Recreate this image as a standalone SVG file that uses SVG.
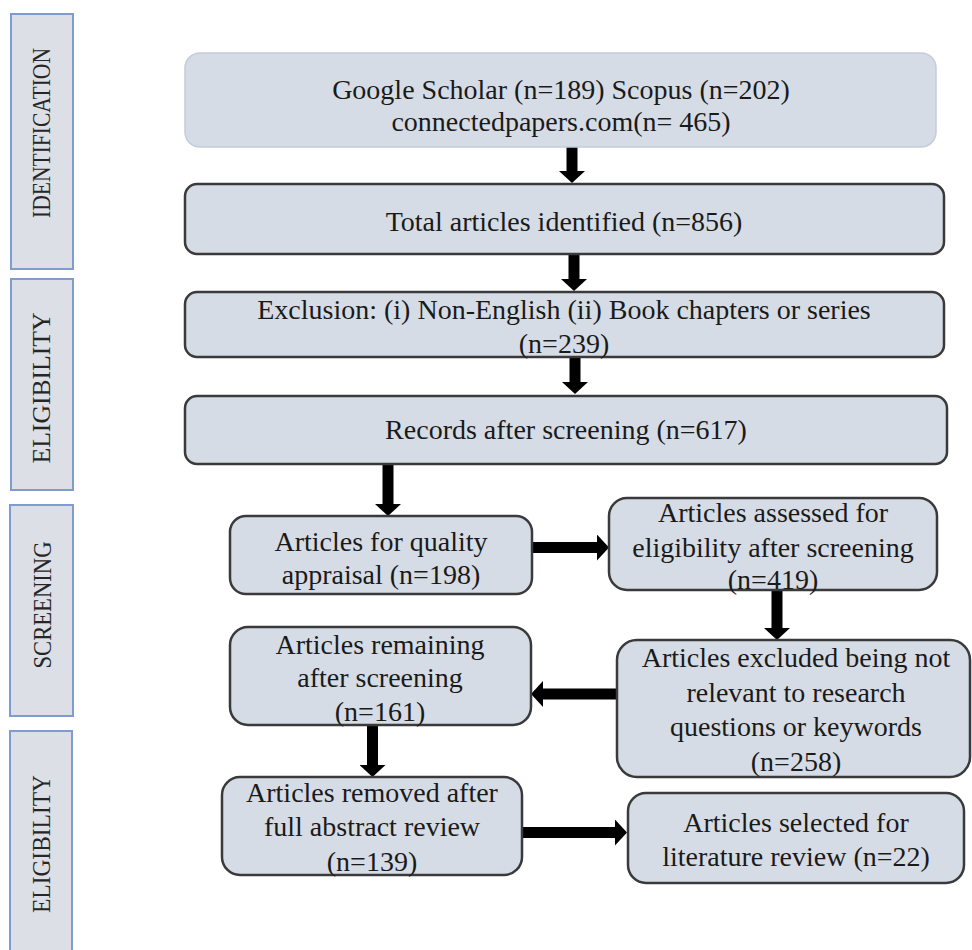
<svg xmlns="http://www.w3.org/2000/svg" width="972" height="950" viewBox="0 0 972 950">
<style>
.bg{fill:#ffffff}
.side rect{fill:#dcdfe6;stroke:#7f9bd0;stroke-width:2}
.side text{font-family:"Liberation Serif","Times New Roman",serif;font-size:25px;fill:#262626;text-anchor:middle}
.node rect{fill:#d6dce5;stroke:#3a3a3a;stroke-width:2.5}
.node.light rect{stroke:#c5ccd8;stroke-width:1.5}
.node text{font-family:"Liberation Serif","Times New Roman",serif;font-size:28px;fill:#1a1a1a;text-anchor:middle}
.conn line{stroke:#000;stroke-width:11;fill:none}
</style>
<defs>
<marker id="ah" viewBox="0 0 12 26" refX="0" refY="13" markerWidth="12" markerHeight="26" markerUnits="userSpaceOnUse" orient="auto">
<path d="M0,0 L12,13 L0,26 z" fill="#000"/>
</marker>
</defs>
<rect class="bg" x="0" y="0" width="972" height="950"/>

<g id="stage-identification" class="side">
<rect x="11" y="14" width="62" height="255"/>
<text transform="translate(50,133) rotate(-90)" textLength="170" lengthAdjust="spacingAndGlyphs">IDENTIFICATION</text>
</g>
<g id="stage-eligibility-1" class="side">
<rect x="11" y="279" width="62" height="211"/>
<text transform="translate(50,388) rotate(-90)" textLength="151" lengthAdjust="spacingAndGlyphs">ELIGIBILITY</text>
</g>
<g id="stage-screening" class="side">
<rect x="10" y="505" width="63" height="211"/>
<text transform="translate(51,605) rotate(-90)" textLength="127" lengthAdjust="spacingAndGlyphs">SCREENING</text>
</g>
<g id="stage-eligibility-2" class="side">
<rect x="10" y="731" width="62" height="240"/>
<text transform="translate(50,844) rotate(-90)" textLength="138" lengthAdjust="spacingAndGlyphs">ELIGIBILITY</text>
</g>

<g id="conn" class="conn">
<line x1="572" y1="147" x2="572" y2="171" marker-end="url(#ah)"/>
<line x1="574" y1="254" x2="574" y2="279" marker-end="url(#ah)"/>
<line x1="575" y1="357" x2="575" y2="382" marker-end="url(#ah)"/>
<line x1="388" y1="464" x2="388" y2="504" marker-end="url(#ah)"/>
<line x1="532" y1="547.5" x2="597" y2="547.5" marker-end="url(#ah)"/>
<line x1="777" y1="590" x2="777" y2="628" marker-end="url(#ah)"/>
<line x1="617" y1="694" x2="543" y2="694" marker-end="url(#ah)"/>
<line x1="372.5" y1="725" x2="372.5" y2="765" marker-end="url(#ah)"/>
<line x1="522" y1="832.5" x2="615" y2="832.5" marker-end="url(#ah)"/>
</g>

<g id="n-sources" class="node light">
<rect x="185" y="53" width="751" height="94" rx="15"/>
<text x="561" y="99">Google Scholar (n=189) Scopus (n=202)</text>
<text x="561" y="131">connectedpapers.com(n= 465)</text>
</g>
<g id="n-total" class="node">
<rect x="185" y="184" width="759" height="70" rx="12"/>
<text x="564" y="231">Total articles identified (n=856)</text>
</g>
<g id="n-exclusion" class="node">
<rect x="185" y="292" width="759" height="65" rx="12"/>
<text x="564" y="319">Exclusion: (i) Non-English  (ii) Book chapters or series</text>
<text x="564" y="353">(n=239)</text>
</g>
<g id="n-records" class="node">
<rect x="185" y="396" width="762" height="68" rx="12"/>
<text x="566" y="439">Records after screening (n=617)</text>
</g>
<g id="n-quality" class="node">
<rect x="230" y="516" width="302" height="78" rx="16"/>
<text x="381" y="551">Articles for quality</text>
<text x="381" y="584">appraisal (n=198)</text>
</g>
<g id="n-assessed" class="node">
<rect x="609" y="498" width="328" height="92" rx="18"/>
<text x="773" y="522">Articles assessed for</text>
<text x="773" y="557">eligibility after screening</text>
<text x="773" y="589">(n=419)</text>
</g>
<g id="n-excluded" class="node">
<rect x="617" y="640" width="353" height="137" rx="20"/>
<text x="796" y="667">Articles excluded being not</text>
<text x="796" y="702">relevant to research</text>
<text x="796" y="736">questions or keywords</text>
<text x="796" y="771">(n=258)</text>
</g>
<g id="n-remaining" class="node">
<rect x="230" y="627" width="301" height="98" rx="18"/>
<text x="380" y="654">Articles remaining</text>
<text x="380" y="687">after screening</text>
<text x="380" y="721">(n=161)</text>
</g>
<g id="n-removed" class="node">
<rect x="222" y="777" width="300" height="98" rx="18"/>
<text x="372" y="802">Articles removed after</text>
<text x="372" y="836">full abstract review</text>
<text x="372" y="871">(n=139)</text>
</g>
<g id="n-selected" class="node">
<rect x="628" y="793" width="336" height="90" rx="18"/>
<text x="796" y="832">Articles selected for</text>
<text x="796" y="866">literature review (n=22)</text>
</g>
</svg>
